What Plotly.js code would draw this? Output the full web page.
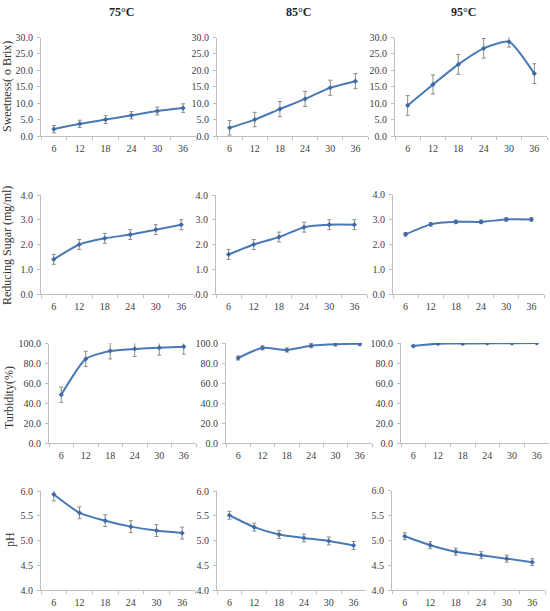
<!DOCTYPE html>
<html>
<head>
<meta charset="utf-8">
<script src="https://cdn.plot.ly/plotly-3.0.1.min.js"></script>
<style>
  html, body { margin: 0; padding: 0; background: #fff; }
  #chart { width: 550px; height: 611px; }
</style>
</head>
<body>
<div id="chart"></div>
<script>
// Fermentation time (h) shared by every panel
const hours = ['6', '12', '18', '24', '30', '36'];
const temps = ['75°C', '85°C', '95°C'];

// Sweetness (°Brix)
const sweet75 = [2.1, 3.7, 5.0, 6.3, 7.6, 8.5];
const sweet75Err = [1.1, 1.1, 1.2, 1.1, 1.2, 1.3];
const sweet85 = [2.5, 5.0, 8.2, 11.3, 14.7, 16.7];
const sweet85Err = [2.2, 2.2, 2.3, 2.3, 2.3, 2.3];
const sweet95 = [9.3, 15.7, 21.8, 26.7, 28.7, 19.0];
const sweet95Err = [3.0, 2.9, 3.0, 3.0, 1.6, 3.0];

// Reducing sugar (mg/ml)
const sugar75 = [1.4, 2.0, 2.25, 2.4, 2.6, 2.8];
const sugar75Err = [0.2, 0.2, 0.2, 0.2, 0.2, 0.2];
const sugar85 = [1.6, 2.0, 2.3, 2.7, 2.8, 2.8];
const sugar85Err = [0.2, 0.2, 0.2, 0.2, 0.2, 0.2];
const sugar95 = [2.4, 2.8, 2.9, 2.9, 3.0, 3.0];
const sugar95Err = [0.07, 0.07, 0.07, 0.07, 0.07, 0.07];

// Turbidity (%)
const turb75 = [48.5, 84.5, 92.5, 94.5, 95.8, 96.8];
const turb75Err = [7.7, 7.7, 8.0, 7.5, 7.5, 7.5];
const turb85 = [85.0, 95.2, 93.0, 97.3, 98.8, 99.2];
const turb85Err = [2.0, 2.0, 2.0, 2.0, 1.8, 1.8];
const turb95 = [97.0, 99.3, 99.4, 99.8, 99.8, 100.0];
const turb95Err = [0.8, 0.8, 0.8, 0.8, 0.8, 0.8];

// pH
const ph75 = [5.93, 5.56, 5.40, 5.28, 5.20, 5.15];
const ph75Err = [0.13, 0.12, 0.12, 0.12, 0.12, 0.12];
const ph85 = [5.51, 5.27, 5.12, 5.05, 4.99, 4.90];
const ph85Err = [0.08, 0.08, 0.08, 0.08, 0.08, 0.08];
const ph95 = [5.08, 4.90, 4.77, 4.70, 4.63, 4.56];
const ph95Err = [0.07, 0.07, 0.07, 0.07, 0.07, 0.07];

const yTitles = ['Sweetness( o Brix)', 'Reducing Sugar (mg/ml)', 'Turbidity(%)', 'pH'];

const rows = [
  { series: [[sweet75, sweet75Err], [sweet85, sweet85Err], [sweet95, sweet95Err]], range: [0, 30], dtick: 5 },
  { series: [[sugar75, sugar75Err], [sugar85, sugar85Err], [sugar95, sugar95Err]], range: [0, 4], dtick: 1 },
  { series: [[turb75, turb75Err], [turb85, turb85Err], [turb95, turb95Err]], range: [0, 100], dtick: 20 },
  { series: [[ph75, ph75Err], [ph85, ph85Err], [ph95, ph95Err]], range: [4, 6], dtick: 0.5 }
];

// Plot-area boxes in pixels: [left, right, top, bottom]
const W = 550, H = 611;
const boxes = [
  [[41, 196, 37.5, 136], [217, 368, 37.5, 136], [395, 547, 37.5, 136]],
  [[41, 194, 195, 294], [216, 367, 195, 294], [393, 544, 194.5, 294]],
  [[49, 196, 343.5, 443], [226, 372, 343, 443], [401, 549, 343, 443]],
  [[41, 195, 491, 590], [217, 366, 491, 590], [392, 545, 490.5, 590]]
];

const lineColor = '#4a7ab6';
const axisColor = '#bfbfbf';
const tickFont = { family: 'Liberation Serif, serif', size: 10, color: '#404040' };

const data = [];
const layout = {
  width: W, height: H,
  margin: { l: 0, r: 0, t: 0, b: 0 },
  paper_bgcolor: '#fff', plot_bgcolor: '#fff',
  showlegend: false,
  annotations: []
};

let n = 0;
rows.forEach((row, r) => {
  row.series.forEach(([vals, errs], c) => {
    n += 1;
    const sfx = n === 1 ? '' : String(n);
    const [x0, x1, yt, yb] = boxes[r][c];
    data.push({
      type: 'scatter', mode: 'lines+markers',
      x: hours, y: vals,
      xaxis: 'x' + sfx, yaxis: 'y' + sfx,
      line: { color: lineColor, width: 2, shape: 'spline', smoothing: 0.55 },
      marker: { symbol: 'diamond', size: 4, color: '#3d6aa8' },
      error_y: { type: 'data', array: errs, visible: true, color: '#8f8a84', thickness: 1, width: 2 },
      hoverinfo: 'skip'
    });
    layout['xaxis' + sfx] = {
      type: 'category', domain: [x0 / W, x1 / W], anchor: 'y' + sfx,
      range: [-0.5, 5.5], showline: true, linecolor: axisColor, linewidth: 1,
      ticks: 'outside', tickson: 'boundaries', ticklen: 3, tickcolor: axisColor,
      ticklabelstandoff: 3,
      tickfont: tickFont, showgrid: false, zeroline: false, fixedrange: true
    };
    layout['yaxis' + sfx] = {
      domain: [1 - yb / H, 1 - yt / H], anchor: 'x' + sfx,
      range: row.range, dtick: row.dtick, tick0: row.range[0], tickformat: '.1f',
      showline: true, linecolor: axisColor, linewidth: 1,
      ticks: 'outside', ticklen: 3, tickcolor: axisColor,
      ticklabelstandoff: 2,
      tickfont: tickFont, showgrid: false, zeroline: false, fixedrange: true
    };
  });
});

// Column headings (temperature)
const headX = [121, 299, 463];
temps.forEach((t, i) => {
  layout.annotations.push({
    xref: 'paper', yref: 'paper', x: headX[i] / W, y: 1 - 12 / H,
    text: '<b>' + t + '</b>', showarrow: false, xanchor: 'center', yanchor: 'middle',
    font: { family: 'Liberation Serif, serif', size: 12, color: '#222' }
  });
});

// Row headings (measured variable), rotated
const titlePos = [[7, 87], [7, 246], [9, 398], [10, 540]];
yTitles.forEach((t, i) => {
  layout.annotations.push({
    xref: 'paper', yref: 'paper', x: titlePos[i][0] / W, y: 1 - titlePos[i][1] / H,
    text: t, showarrow: false, textangle: -90, xanchor: 'center', yanchor: 'middle',
    font: { family: 'Liberation Serif, serif', size: 12, color: '#333' }
  });
});

Plotly.newPlot('chart', data, layout, { staticPlot: true, displayModeBar: false });
</script>
</body>
</html>
